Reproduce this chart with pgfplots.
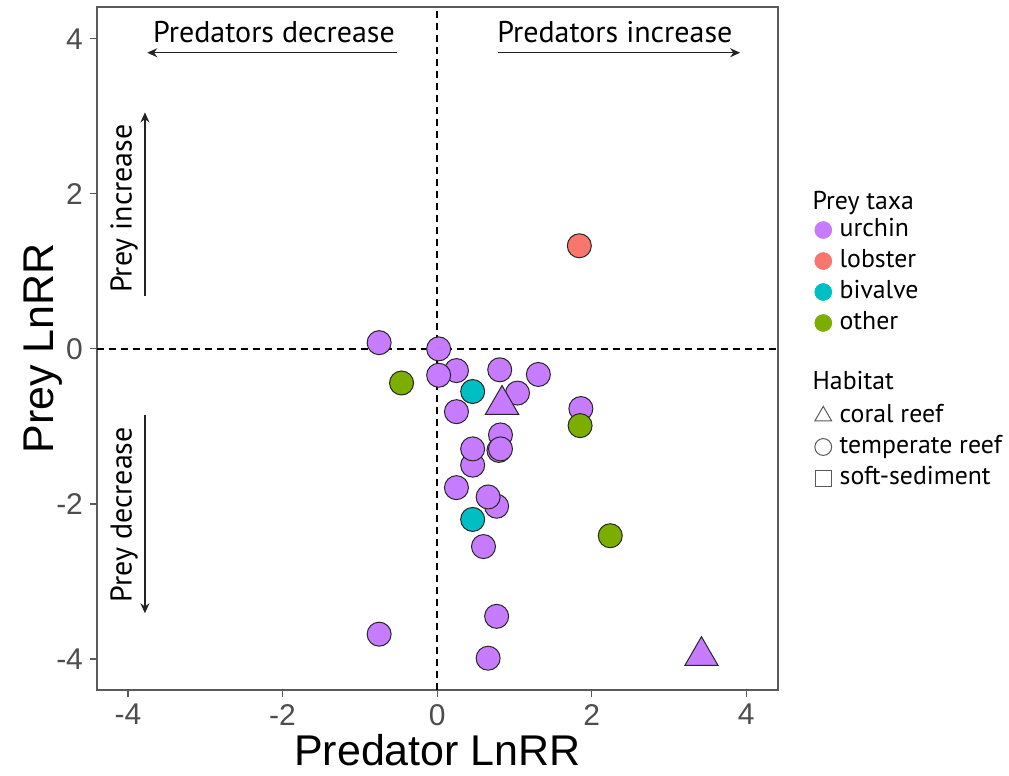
\documentclass[border=0pt]{standalone}
\usepackage{fontspec}
\setmainfont{PT Sans}
\newfontfamily\arial{Liberation Sans}
\usepackage{pgfplots}
\pgfplotsset{compat=1.18}
\usetikzlibrary{arrows.meta}
\definecolor{urchin}{HTML}{C77CFF}
\definecolor{lobster}{HTML}{F8766D}
\definecolor{bivalve}{HTML}{00BFC4}
\definecolor{other}{HTML}{7CAE00}
\definecolor{axisgray}{HTML}{5A5A5A}
\definecolor{ticklab}{HTML}{4D4D4D}
\definecolor{arrowc}{HTML}{222222}
\begin{document}
\begin{tikzpicture}
\useasboundingbox (-48.5pt,-43pt) rectangle (456pt,345pt);
\begin{axis}[
  scale only axis, width=340.5pt, height=341.5pt,
  xmin=-4.4, xmax=4.41, ymin=-4.4, ymax=4.41,
  axis line style={axisgray, line width=0.6pt},
  tick style={axisgray, line width=0.6pt},
  tick align=outside, major tick length=3.5pt,
  xtick pos=left, ytick pos=left,
  xtick={-4,-2,0,2,4}, xticklabels={-4,-2,0,2,4},
  ytick={-4,-2,0,2,4}, yticklabels={-4,-2,0,2,4},
  ticklabel style={font=\arial\fontsize{15}{15}\selectfont, text=ticklab},
  xlabel={Predator LnRR}, ylabel={Prey LnRR},
  label style={font=\arial\fontsize{21.5}{21.5}\selectfont},
  xlabel style={yshift=2.5pt},
  ylabel style={yshift=-10pt},
  legend style={at={(1.032,0.748)}, anchor=north west, draw=none,
    font=\fontsize{12.9}{12.9}\selectfont, legend cell align=left,
    row sep=0pt, nodes={text height=10pt, text depth=3.5pt, inner sep=1pt},
    /tikz/every odd column/.append style={column sep=3pt}},
]
% reference lines
\addplot[forget plot, black, line width=0.7pt, dash pattern=on 3.5pt off 2.5pt] coordinates {(0,-4.4) (0,4.41)};
\addplot[forget plot, black, line width=0.7pt, dash pattern=on 3.5pt off 2.5pt] coordinates {(-4.4,0) (4.41,0)};

% legend
\addlegendimage{empty legend}\addlegendentry{\hspace*{-13.5pt}\raisebox{-2pt}{Prey taxa}}
\addlegendimage{only marks, mark=*, mark size=4.2pt, mark options={fill=urchin, draw=urchin}}\addlegendentry{urchin}
\addlegendimage{only marks, mark=*, mark size=4.2pt, mark options={fill=lobster, draw=lobster}}\addlegendentry{lobster}
\addlegendimage{only marks, mark=*, mark size=4.2pt, mark options={fill=bivalve, draw=bivalve}}\addlegendentry{bivalve}
\addlegendimage{only marks, mark=*, mark size=4.2pt, mark options={fill=other, draw=other}}\addlegendentry{other}
\addlegendimage{empty legend}\addlegendentry{}
\addlegendimage{empty legend}\addlegendentry{\hspace*{-13.5pt}\raisebox{1pt}{Habitat}}
\addlegendimage{only marks, mark=triangle, mark size=4.8pt, mark options={draw=axisgray, line width=0.5pt}}\addlegendentry{coral reef}
\addlegendimage{only marks, mark=o, mark size=4.2pt, mark options={draw=axisgray, line width=0.5pt}}\addlegendentry{temperate reef}
\addlegendimage{only marks, mark=square, mark size=4pt, mark options={draw=axisgray, line width=0.5pt}}\addlegendentry{soft-sediment}

% urchin, temperate reef
\addplot[forget plot, only marks, mark=*, mark size=6pt, mark options={fill=urchin, draw=black!85, line width=0.5pt}] coordinates {
(-0.75,0.08) (0.02,0.00) (0.25,-0.28) (0.02,-0.34) (0.81,-0.27) (1.31,-0.33)
(1.04,-0.57) (0.25,-0.81) (0.82,-1.11) (0.80,-1.31) (0.82,-1.29) (0.46,-1.50) (0.46,-1.29)
(0.25,-1.79) (0.77,-2.03) (0.66,-1.91) (0.60,-2.55) (-0.75,-3.68) (0.77,-3.45)
(0.66,-3.99) (1.86,-0.77)
};
% lobster
\addplot[forget plot, only marks, mark=*, mark size=6pt, mark options={fill=lobster, draw=black!85, line width=0.5pt}] coordinates {(1.84,1.33)};
% bivalve
\addplot[forget plot, only marks, mark=*, mark size=6pt, mark options={fill=bivalve, draw=black!85, line width=0.5pt}] coordinates {(0.46,-0.55) (0.46,-2.20)};
% other
\addplot[forget plot, only marks, mark=*, mark size=6pt, mark options={fill=other, draw=black!85, line width=0.5pt}] coordinates {(-0.46,-0.44) (1.85,-0.99) (2.24,-2.41)};
% urchin, coral reef
\addplot[forget plot, only marks, mark=triangle*, mark size=9.6pt, mark options={fill=urchin, draw=black!85, line width=0.5pt}] coordinates {(0.84,-0.72) (3.42,-3.96)};

% annotations
\draw[arrowc, line width=0.7pt, -{Stealth[length=5pt,width=4.5pt]}] (axis cs:-0.52,3.82) -- (axis cs:-3.75,3.82);
\draw[arrowc, line width=0.7pt, -{Stealth[length=5pt,width=4.5pt]}] (axis cs:0.79,3.82) -- (axis cs:3.92,3.82);
\node[font=\fontsize{15}{15}\selectfont] at (axis cs:-2.11,4.09) {Predators decrease};
\node[font=\fontsize{15}{15}\selectfont] at (axis cs:2.30,4.09) {Predators increase};
\draw[arrowc, line width=0.7pt, -{Stealth[length=5pt,width=4.5pt]}] (axis cs:-3.78,0.68) -- (axis cs:-3.78,3.05);
\draw[arrowc, line width=0.7pt, -{Stealth[length=5pt,width=4.5pt]}] (axis cs:-3.78,-0.85) -- (axis cs:-3.78,-3.41);
\node[rotate=90, font=\fontsize{15}{15}\selectfont] at (axis cs:-4.05,1.81) {Prey increase};
\node[rotate=90, font=\fontsize{15}{15}\selectfont] at (axis cs:-4.05,-2.14) {Prey decrease};
\end{axis}
\end{tikzpicture}
\end{document}
